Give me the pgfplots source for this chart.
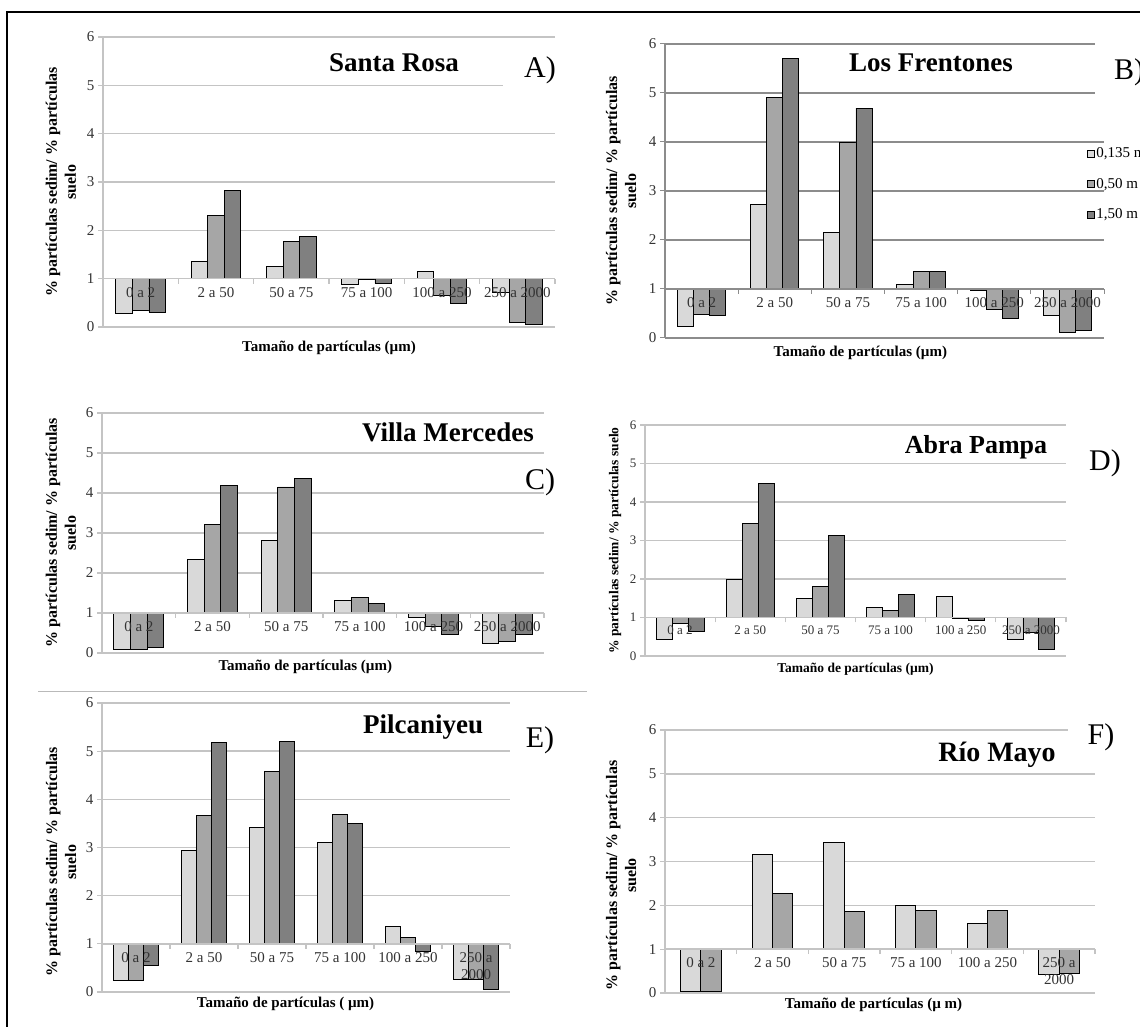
\documentclass[border=0pt]{standalone}
\usepackage{fontspec}
\setmainfont{Liberation Serif}
\usepackage{pgfplots}
\pgfplotsset{compat=1.18}
\usepackage{pgfplotstable}

\definecolor{barL}{HTML}{D9D9D9}
\definecolor{barM}{HTML}{A6A6A6}
\definecolor{barD}{HTML}{808080}
\definecolor{gridc}{HTML}{C4C4C4}
\definecolor{gridb}{HTML}{8C8C8C}
\definecolor{ticktext}{HTML}{333333}

% ratio columns: l = 0,135 m, m = 0,50 m, d = 1,50 m
\pgfplotstableread{
c l m d
0 0.27 0.34 0.31
1 1.36 2.30 2.83
2 1.25 1.77 1.87
3 0.89 0.98 0.90
4 1.15 0.65 0.48
5 0.72 0.10 0.05
}\tabA
\pgfplotstableread{
c l m d
0 0.24 0.49 0.46
1 2.73 4.90 5.70
2 2.16 4.00 4.69
3 1.10 1.36 1.36
4 0.98 0.59 0.40
5 0.46 0.12 0.15
}\tabB
\pgfplotstableread{
c l m d
0 0.10 0.10 0.13
1 2.33 3.21 4.18
2 2.82 4.15 4.36
3 1.32 1.38 1.23
4 0.90 0.67 0.47
5 0.25 0.28 0.47
}\tabC
\pgfplotstableread{
c l m d
0 0.43 0.85 0.65
1 2.00 3.44 4.48
2 1.49 1.81 3.12
3 1.27 1.19 1.61
4 1.54 0.97 0.93
5 0.43 0.60 0.17
}\tabD
\pgfplotstableread{
c l m d
0 0.23 0.24 0.55
1 2.93 3.67 5.19
2 3.41 4.58 5.21
3 3.10 3.68 3.50
4 1.37 1.13 0.85
5 0.26 0.27 0.06
}\tabE
\pgfplotstableread{
c l m
0 0.04 0.04
1 3.15 2.26
2 3.44 1.85
3 2.00 1.89
4 1.59 1.88
5 0.42 0.44
}\tabF

\pgfplotsset{
  layers/labelsontop/.define layer set={
    axis background,axis grid,main,axis ticks,axis lines,axis tick labels,axis descriptions,axis foreground
  }{/pgfplots/layers/standard},
  % bars rise or fall from the ratio 1, so the axis is shifted down by one
  panel/.style={
    scale only axis,
    set layers=labelsontop,
    xmin=-0.5, xmax=5.5, ymin=-1, ymax=5,
    axis x line*=middle, axis y line*=left,
    hide obscured y ticks=false,
    hide obscured x ticks=false,
    xtick={-0.5,0.5,1.5,2.5,3.5,4.5,5.5},
    x tick label as interval,
    xticklabels={0 a 2,2 a 50,50 a 75,75 a 100,100 a 250,250 a 2000},
    ytick={-1,0,1,2,3,4,5},
    yticklabels={0,1,2,3,4,5,6},
    ymajorgrids,
    grid style={line width=1.6pt, color=gridc},
    axis line style={line width=1.4pt, color=gridc},
    tick style={line width=1.2pt, color=gridc},
    tick align=outside,
    major tick length=5pt,
    tick label style={font=\fontsize{15}{17}\selectfont, text=ticktext},
    xticklabel style={align=center},
    every axis x label/.style={font=\fontsize{15}{17}\selectfont\bfseries, anchor=center},
    every axis y label/.style={font=\fontsize{16}{19}\selectfont\bfseries, rotate=90, anchor=center, align=center},
  },
  lbar/.style={ybar, bar width=0.22, bar shift=-0.22, fill=barL, draw=black, line width=0.9pt},
  mbar/.style={ybar, bar width=0.22, bar shift=0, fill=barM, draw=black, line width=0.9pt},
  dbar/.style={ybar, bar width=0.22, bar shift=0.22, fill=barD, draw=black, line width=0.9pt},
}

\newcommand{\ylab}{\% partículas sedim/ \% partículas\\suelo}

\begin{document}
\begin{tikzpicture}[x=1pt,y=1pt]

% A) Santa Rosa
\begin{axis}[panel, at={(103pt,699pt)}, anchor=south west, width=452pt, height=290pt,
  xlabel={Tamaño de partículas (µm)}, xlabel style={at={(axis description cs:0.5,-0.072)}},
  ylabel={\ylab}, ylabel style={at={(axis description cs:-0.093,0.5)}}]
\addplot[lbar] table[x=c, y expr=\thisrow{l}-1] {\tabA};
\addplot[mbar] table[x=c, y expr=\thisrow{m}-1] {\tabA};
\addplot[dbar] table[x=c, y expr=\thisrow{d}-1] {\tabA};
\end{axis}

% B) Los Frentones
\begin{axis}[panel, at={(665pt,688pt)}, anchor=south west, width=439pt, height=294pt,
  grid style={line width=1.2pt, color=gridb},
  axis line style={line width=1.2pt, color=gridb},
  tick style={line width=1pt, color=gridb},
  xlabel={Tamaño de partículas (µm)}, xlabel style={at={(axis description cs:0.445,-0.051)}},
  ylabel={\ylab}, ylabel style={at={(axis description cs:-0.1,0.5)}},
  legend style={at={(rel axis cs:0.961,0.653)}, anchor=north west, draw=none, fill=none,
    font=\fontsize{15}{17}\selectfont, row sep=16pt, inner sep=0pt, nodes={inner sep=1.5pt}},
  legend cell align=left,
  legend image code/.code={\draw[#1,draw=black,line width=0.7pt] (0pt,-3.5pt) rectangle (7pt,3.5pt);}]
\addplot[lbar] table[x=c, y expr=\thisrow{l}-1] {\tabB};
\addlegendentry{0,135 m}
\addplot[mbar] table[x=c, y expr=\thisrow{m}-1] {\tabB};
\addlegendentry{0,50 m}
\addplot[dbar] table[x=c, y expr=\thisrow{d}-1] {\tabB};
\addlegendentry{1,50 m}
\end{axis}

% C) Villa Mercedes
\begin{axis}[panel, at={(102pt,373pt)}, anchor=south west, width=442pt, height=240pt,
  xlabel={Tamaño de partículas (µm)}, xlabel style={at={(axis description cs:0.46,-0.058)}},
  ylabel={\ylab}, ylabel style={at={(axis description cs:-0.093,0.5)}}]
\addplot[lbar, bar width=0.227, bar shift=-0.227] table[x=c, y expr=\thisrow{l}-1] {\tabC};
\addplot[mbar, bar width=0.227] table[x=c, y expr=\thisrow{m}-1] {\tabC};
\addplot[dbar, bar width=0.227, bar shift=0.227] table[x=c, y expr=\thisrow{d}-1] {\tabC};
\end{axis}

% D) Abra Pampa
\begin{axis}[panel, at={(645pt,370pt)}, anchor=south west, width=421pt, height=231pt,
  tick label style={font=\fontsize{13}{15}\selectfont, text=ticktext},
  xlabel={Tamaño de partículas (µm)},
  xlabel style={at={(axis description cs:0.5,-0.056)}, font=\fontsize{13.5}{15}\selectfont\bfseries},
  ylabel={\% partículas sedim/ \% partículas suelo},
  ylabel style={at={(axis description cs:-0.071,0.5)}, font=\fontsize{13.5}{15}\selectfont\bfseries}]
\addplot[lbar, bar width=0.227, bar shift=-0.227] table[x=c, y expr=\thisrow{l}-1] {\tabD};
\addplot[mbar, bar width=0.227] table[x=c, y expr=\thisrow{m}-1] {\tabD};
\addplot[dbar, bar width=0.227, bar shift=0.227] table[x=c, y expr=\thisrow{d}-1] {\tabD};
\end{axis}

% E) Pilcaniyeu
\begin{axis}[panel, at={(102pt,34pt)}, anchor=south west, width=408pt, height=289pt,
  xticklabels={0 a 2,2 a 50,50 a 75,75 a 100,100 a 250,250 a\\2000},
  xlabel={Tamaño de partículas ( µm)}, xlabel style={at={(axis description cs:0.45,-0.04)}},
  ylabel={\ylab}, ylabel style={at={(axis description cs:-0.1,0.45)}}]
\addplot[lbar] table[x=c, y expr=\thisrow{l}-1] {\tabE};
\addplot[mbar] table[x=c, y expr=\thisrow{m}-1] {\tabE};
\addplot[dbar] table[x=c, y expr=\thisrow{d}-1] {\tabE};
\end{axis}

% F) Río Mayo
\begin{axis}[panel, at={(665pt,33pt)}, anchor=south west, width=430pt, height=263pt,
  xticklabels={0 a 2,2 a 50,50 a 75,75 a 100,100 a 250,250 a\\2000},
  xlabel={Tamaño de partículas (µ m)}, xlabel style={at={(axis description cs:0.485,-0.046)}},
  ylabel={\ylab}, ylabel style={at={(axis description cs:-0.102,0.447)}}]
\addplot[lbar, bar width=0.285, bar shift=-0.1425] table[x=c, y expr=\thisrow{l}-1] {\tabF};
\addplot[mbar, bar width=0.285, bar shift=0.1425] table[x=c, y expr=\thisrow{m}-1] {\tabF};
\end{axis}

% text boxes that hide the ends of some grid lines
\fill[white] (503,938) rectangle (560,974);
\fill[white] (1095,922) rectangle (1145,988);
\fill[white] (1068,274) rectangle (1135,304);

% panel titles
\node[font=\fontsize{27}{30}\selectfont\bfseries] at (394,963) {Santa Rosa};
\node[font=\fontsize{27}{30}\selectfont\bfseries] at (931,963) {Los Frentones};
\node[font=\fontsize{27}{30}\selectfont\bfseries] at (448,594) {Villa Mercedes};
\node[font=\fontsize{26}{30}\selectfont\bfseries] at (976,579) {Abra Pampa};
\node[font=\fontsize{27}{30}\selectfont\bfseries] at (423,299) {Pilcaniyeu};
\node[font=\fontsize{28}{30}\selectfont\bfseries] at (997,271) {Río Mayo};

% panel letters
\node[font=\fontsize{30}{32}\selectfont] at (540,956) {A)};
\node[font=\fontsize{30}{32}\selectfont, anchor=west, inner sep=0pt] at (1114,954) {B)};
\node[font=\fontsize{30}{32}\selectfont] at (540,544) {C)};
\node[font=\fontsize{30}{32}\selectfont] at (1105,563) {D)};
\node[font=\fontsize{30}{32}\selectfont] at (540,286) {E)};
\node[font=\fontsize{30}{32}\selectfont] at (1101,289) {F)};

% separator and frame
\draw[gray!55, line width=1pt] (38,334) -- (587,334);
\draw[line width=2.5pt] (7,-5) -- (7,1014) -- (1150,1014);

% the page is exactly the drawing area
\pgfresetboundingbox
\path[use as bounding box] (0,0) rectangle (1140,1026);
\end{tikzpicture}
\end{document}
